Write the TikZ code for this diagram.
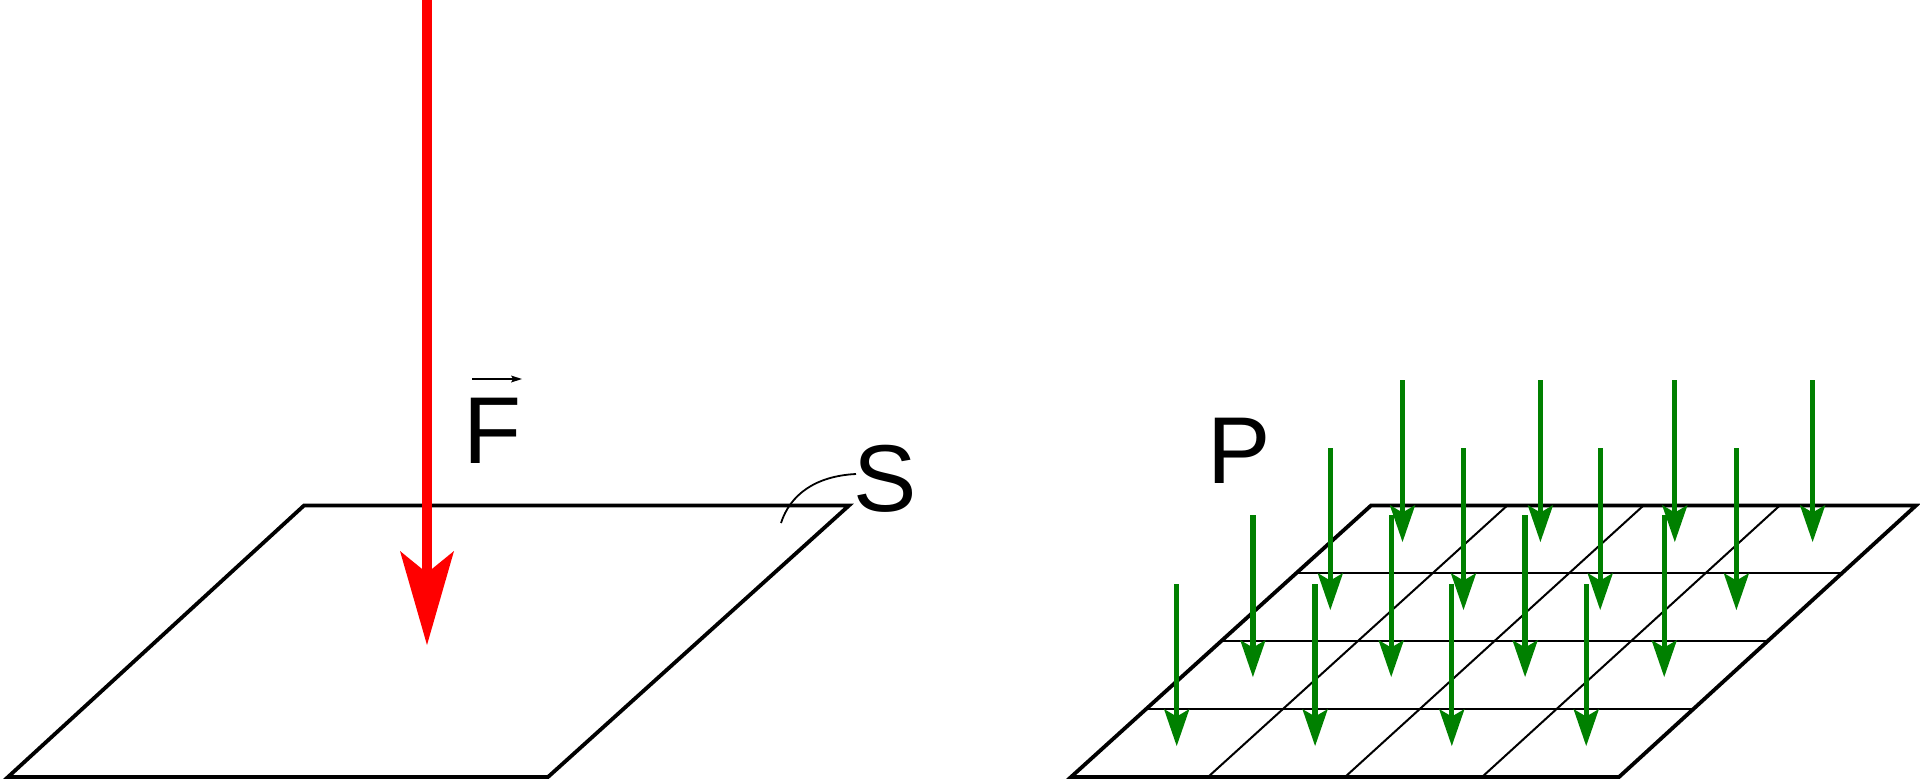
\documentclass[tikz,border=0pt]{standalone}
\usepackage{fontspec}
\setmainfont{Liberation Sans}
\usetikzlibrary{arrows.meta,calc}
\definecolor{fred}{RGB}{255,0,0}
\definecolor{fgreen}{RGB}{0,128,0}
\begin{document}
\begin{tikzpicture}[x=1pt,y=-1pt,
  surface/.style={draw=black,line width=3.8pt,line join=miter},
  gridline/.style={draw=black,line width=2pt},
  force/.style={draw=fred,line width=10pt,-{Stealth[length=94pt,width=54pt,inset=22pt,line width=0pt]}},
  pressure/.style={draw=fgreen,line width=5.3pt,-{Stealth[length=37pt,width=25.5pt,inset=7.5pt,line width=0pt]}},
  vecarrow/.style={draw=black,line width=1.6pt,-{Stealth[length=11pt,width=7pt,inset=2pt,line width=0pt]}},
  lbl/.style={inner sep=0pt,anchor=base west,font=\fontsize{95pt}{100pt}\selectfont},
  leader/.style={draw=black,line width=1.8pt}
]
\useasboundingbox (0,0) rectangle (1920,780);

% left surface
\coordinate (LBL) at (8,777);
\coordinate (LBR) at (548,777);
\coordinate (LTR) at (849,505.5);
\coordinate (LTL) at (304,505.5);
\draw[surface] (LBL) -- (LBR) -- (LTR) -- (LTL) -- cycle;

% force arrow
\coordinate (Ftop) at (427,0);
\coordinate (Ftip) at (427,645);
\draw[force] (Ftop) -- (Ftip);

% labels
\node[lbl] (F) at (463,463) {F};
\coordinate (Va) at (472,379);
\coordinate (Vb) at (522,379);
\draw[vecarrow] (Va) -- (Vb);

\node[lbl] (S) at (853,511) {S};
\coordinate (Sfoot) at (781,523);
\coordinate (Send) at (856,474);
\draw[leader] (Sfoot) .. controls (790,495) and (815,476) .. (Send);

% right surface
\coordinate (RBL) at (1071,777);
\coordinate (RBR) at (1619,777);
\coordinate (RTR) at (1916,505.5);
\coordinate (RTL) at (1371,505.5);
\foreach \i in {1,2,3}{
  \draw[gridline] ($(RBL)!\i/4!(RBR)$) -- ($(RTL)!\i/4!(RTR)$);
  \draw[gridline] ($(RTL)!\i/4!(RBL)$) -- ($(RTR)!\i/4!(RBR)$);
}
\draw[surface] (RBL) -- (RBR) -- (RTR) -- (RTL) -- cycle;

\node[lbl] (P) at (1207,483) {P};

% pressure arrows
\foreach \y/\xs in {542/{1402.5,1540.4,1674.8,1812.6},610/{1330.3,1463.5,1600.2,1736.4},677/{1252.9,1391.2,1525.1,1664.2},746/{1176.7,1315.1,1451.8,1586.2}}{
  \foreach \x in \xs {
    \coordinate (pt) at (\x,\y-162);
    \coordinate (pb) at (\x,\y);
    \draw[pressure] (pt) -- (pb);
  }
}
\end{tikzpicture}
\end{document}
